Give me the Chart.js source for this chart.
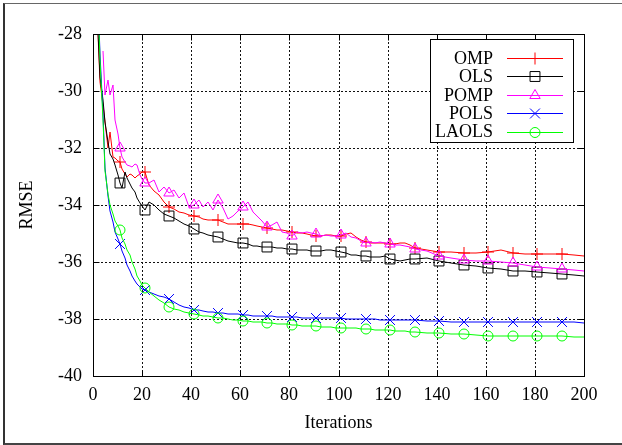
<!DOCTYPE html>
<html>
<head>
<meta charset="utf-8">
<script src="https://cdn.jsdelivr.net/npm/chart.js@4.4.1/dist/chart.umd.min.js"></script>
<style>
  html, body { margin: 0; padding: 0; background: #fff; overflow: hidden; }
  #wrap { position: relative; width: 622px; height: 445px; }
  #edge { position: absolute; left: 3px; top: 3px; right: -4px; bottom: 0; border-left: 2px solid #333; border-top: 1px solid #666; border-bottom: 2px solid #444; pointer-events: none; }
</style>
</head>
<body>
<div id="wrap">
  <canvas id="rmseChart" width="622" height="445"></canvas>
  <div id="edge"></div>
</div>
<script>
// iteration numbers at which the curves are sampled
var iterations = [1, 2, 3, 4, 5, 6, 7, 8, 9, 10, 11, 12, 13, 14, 15, 16, 17, 18, 19, 20, 21,
  23, 25, 27, 29, 31, 33, 35, 37, 39, 41, 43, 45, 47, 49, 51, 53, 55, 57, 59, 61,
  63, 65, 67, 69, 71, 73, 75, 77, 79, 81, 83, 85, 87, 89, 91, 93, 95, 97, 99, 101,
  103, 105, 107, 109, 111, 113, 115, 117, 119, 121, 123, 125, 127, 129, 131,
  136, 141, 146, 151, 156, 161, 166, 171, 176, 181, 186, 191, 196, 200];

var omp = [-25.0, -28.0, -29.7, -30.5, -31.1, -32.0, -31.45, -32.3, -32.35, -32.45, -32.5, -32.75, -32.9, -33.0, -32.9, -32.95, -33.06, -32.98, -32.9, -32.85, -32.83,
  -33.3, -33.5, -33.65, -33.9, -34.06,
  -34.15, -34.23, -34.28, -34.34, -34.39, -34.43, -34.48, -34.53, -34.54, -34.53,
  -34.6, -34.65, -34.65, -34.65, -34.65, -34.68, -34.7, -34.75, -34.78, -34.8,
  -34.83, -34.86, -34.89, -34.92, -34.95, -34.98, -35.0, -35.03, -35.06, -35.09,
  -35.08, -35.06, -35.05, -35.08, -35.1, -35.03, -34.99, -35.12, -35.22, -35.3,
  -35.32, -35.33, -35.34, -35.35, -35.37, -35.36, -35.34, -35.32, -35.42, -35.5,
  -35.57, -35.64, -35.66, -35.7, -35.68, -35.65, -35.58, -35.7, -35.71, -35.72, -35.72, -35.72, -35.76, -35.8];

var ols = [-25.0, -27.9, -29.5, -30.3, -31.1, -31.8, -32.2, -32.4, -32.6, -32.95, -33.23, -33.4, -32.85, -33.05, -33.25, -33.4, -33.55, -33.75, -33.93, -34.05, -34.18,
  -33.88, -34.0, -34.18, -34.3, -34.39,
  -34.47, -34.55, -34.68, -34.75, -34.85, -34.93, -34.99, -35.04, -35.08, -35.11,
  -35.19, -35.25, -35.3, -35.33, -35.34, -35.36, -35.43, -35.45, -35.46, -35.47,
  -35.49, -35.5, -35.52, -35.53, -35.55, -35.57, -35.58, -35.59, -35.6, -35.6,
  -35.6, -35.59, -35.58, -35.62, -35.65, -35.69, -35.74, -35.77, -35.79, -35.8,
  -35.83, -35.84, -35.81, -35.8, -35.88, -35.92, -35.95, -35.93, -35.91, -35.9,
  -35.86, -35.96, -36.04, -36.1, -36.15, -36.2, -36.25, -36.3, -36.33, -36.35, -36.4, -36.43, -36.47, -36.5];

var pomp = [null, null, null, -28.58, -30.14, -29.61, -30.14, -29.79, -31.0, -31.5, -32.0, -32.3, -32.5, -32.58, -32.62, -32.65, -32.55, -32.6, -32.95, -33.1, -33.22,
  -33.24, -33.12, -33.53, -33.36, -33.57,
  -33.47, -33.77, -33.59, -34.06, -34.0, -33.82, -34.06, -33.88, -34.18, -33.82,
  -34.1, -34.5, -34.4, -34.2, -34.06, -33.88, -34.23, -34.4, -34.55, -34.78,
  -34.7, -34.6, -34.94, -35.0, -35.09, -34.94, -35.0, -34.94, -35.0, -35.02,
  -35.1, -35.06, -35.09, -35.1, -35.05, -35.0, -35.12, -35.15, -35.25, -35.33,
  -35.3, -35.32, -35.3, -35.35, -35.37, -35.42, -35.4, -35.45, -35.47, -35.54,
  -35.6, -35.8, -35.87, -35.93, -35.95, -35.96, -36.0, -36.05, -36.12, -36.18, -36.22, -36.25, -36.28, -36.3];

var pols = [-24.5, -26.7, -28.7, -30.8, -32.7, -33.7, -34.2, -34.6, -34.95, -35.2, -35.37, -35.6, -35.85, -36.1, -36.3, -36.5, -36.65, -36.78, -36.87, -36.93, -36.98,
  -37.06, -37.13, -37.19, -37.24, -37.29,
  -37.4, -37.5, -37.57, -37.63, -37.68, -37.7, -37.72, -37.74, -37.77, -37.79,
  -37.8, -37.81, -37.83, -37.84, -37.86, -37.87, -37.88, -37.89, -37.9, -37.9,
  -37.91, -37.92, -37.92, -37.93, -37.93, -37.94, -37.95, -37.95, -37.96, -37.96,
  -37.97, -37.97, -37.98, -37.98, -37.98, -37.99, -37.99, -38.0, -38.0, -38.0,
  -38.01, -38.01, -38.02, -38.02, -38.02, -38.03, -38.04, -38.04, -38.05, -38.05,
  -38.07, -38.08, -38.09, -38.1, -38.1, -38.1, -38.1, -38.1, -38.1, -38.1, -38.11, -38.11, -38.12, -38.13];

var laols = [-24.5, -26.8, -28.9, -31.0, -32.8, -33.6, -34.0, -34.3, -34.55, -34.72, -34.88, -35.15, -35.37, -35.57, -35.75, -36.0, -36.25, -36.5, -36.65, -36.8, -36.91,
  -37.05, -37.2, -37.33, -37.45, -37.58,
  -37.65, -37.7, -37.75, -37.79, -37.82, -37.85, -37.88, -37.91, -37.94, -37.96,
  -37.98, -38.0, -38.02, -38.05, -38.07, -38.08, -38.1, -38.11, -38.12, -38.13,
  -38.15, -38.16, -38.18, -38.19, -38.2, -38.21, -38.23, -38.24, -38.25, -38.26,
  -38.27, -38.28, -38.29, -38.3, -38.3, -38.31, -38.32, -38.33, -38.34, -38.35,
  -38.36, -38.37, -38.38, -38.39, -38.4, -38.41, -38.42, -38.43, -38.44, -38.45,
  -38.48, -38.5, -38.52, -38.53, -38.56, -38.58, -38.59, -38.6, -38.6, -38.6, -38.6, -38.61, -38.62, -38.63];

var names = ['OMP', 'OLS', 'POMP', 'POLS', 'LAOLS'];
var xTicks = [0, 20, 40, 60, 80, 100, 120, 140, 160, 180, 200];
var yTicks = [-40, -38, -36, -34, -32, -30, -28];

var serif = '"Liberation Serif", "Times New Roman", serif';
Chart.defaults.font.family = serif;
Chart.defaults.font.size = 18;
Chart.defaults.color = '#000';

var look = [
  { color: '#ff0000', style: 'cross', r: 6 },
  { color: '#000000', style: 'rect', r: 7 },
  { color: '#ff00ff', style: 'triangle', r: 6 },
  { color: '#0000ff', style: 'crossRot', r: 7 },
  { color: '#00ff00', style: 'circle', r: 5 }
];

// a symbol every 10th iteration, like gnuplot's "every 10"
function everyTen(r) {
  return function (ctx) {
    var it = iterations[ctx.dataIndex];
    return (it > 1 && (it - 1) % 10 === 0) ? r : 0;
  };
}

var datasets = [omp, ols, pomp, pols, laols].map(function (vals, i) {
  return {
    label: names[i],
    data: iterations.map(function (it, k) { return { x: it, y: vals[k] }; }),
    borderColor: look[i].color,
    borderWidth: 1,
    pointStyle: look[i].style,
    markRadius: look[i].r,
    pointRadius: everyTen(look[i].r),
    pointHoverRadius: 0,
    pointBorderColor: look[i].color,
    pointBackgroundColor: 'rgba(0,0,0,0)',
    pointBorderWidth: 1,
    tension: 0,
    spanGaps: false,
    order: 4 - i
  };
});

// closed frame with inward ticks on all four sides
var boxFrame = {
  id: 'boxFrame',
  afterDatasetsDraw: function (chart) {
    var c = chart.ctx, a = chart.chartArea;
    var sx = chart.scales.x, sy = chart.scales.y;
    var L = Math.round(a.left) + 0.5, R = Math.round(a.right) + 0.5;
    var T = Math.round(a.top) + 0.5, B = Math.round(a.bottom) + 0.5;
    c.save();
    c.strokeStyle = '#000';
    c.lineWidth = 1;
    c.strokeRect(L, T, R - L, B - T);
    c.beginPath();
    xTicks.forEach(function (v) {
      var px = Math.round(sx.getPixelForValue(v)) + 0.5;
      c.moveTo(px, B); c.lineTo(px, B - 6);
      c.moveTo(px, T); c.lineTo(px, T + 6);
    });
    yTicks.forEach(function (v) {
      var py = Math.round(sy.getPixelForValue(v)) + 0.5;
      c.moveTo(L, py); c.lineTo(L + 6, py);
      c.moveTo(R, py); c.lineTo(R - 6, py);
    });
    c.stroke();
    c.restore();
  }
};

// key in the upper right corner, text right-aligned before the sample
var keyBox = {
  id: 'keyBox',
  afterDatasetsDraw: function (chart) {
    var c = chart.ctx;
    c.save();
    c.fillStyle = '#fff';
    c.fillRect(430, 39, 143, 103);
    c.strokeStyle = '#000';
    c.lineWidth = 1;
    c.strokeRect(430.5, 39.5, 143, 103);
    c.font = '18px ' + serif;
    c.textAlign = 'right';
    c.textBaseline = 'middle';
    chart.data.datasets.forEach(function (ds, i) {
      var y = 58 + i * 18.4;
      var ly = Math.round(y) + 0.5;
      c.fillStyle = '#000';
      c.fillText(ds.label, 493, y + 1);
      c.strokeStyle = ds.borderColor;
      c.beginPath();
      c.moveTo(507, ly);
      c.lineTo(563, ly);
      c.stroke();
      c.fillStyle = 'rgba(0,0,0,0)';
      Chart.helpers.drawPoint(c, { pointStyle: ds.pointStyle, radius: ds.markRadius, borderWidth: 1, rotation: 0 }, 535, ly);
    });
    c.restore();
  }
};

new Chart(document.getElementById('rmseChart').getContext('2d'), {
  type: 'line',
  data: { datasets: datasets },
  options: {
    responsive: false,
    animation: false,
    events: [],
    layout: { padding: { top: 34, right: 38, left: 0, bottom: 0 } },
    plugins: { legend: { display: false }, tooltip: { enabled: false } },
    scales: {
      x: {
        type: 'linear',
        min: 0,
        max: 200,
        alignToPixels: true,
        afterFit: function (s) { s.height = 69; },
        ticks: { stepSize: 20, padding: 8, maxRotation: 0, autoSkip: false },
        grid: { color: '#111', lineWidth: 1, drawTicks: false },
        border: { display: false, dash: [2, 2] },
        title: { display: true, text: 'Iterations', padding: { top: 0, bottom: 11 } }
      },
      y: {
        min: -40,
        max: -28,
        alignToPixels: true,
        afterFit: function (s) { s.width = 93; },
        ticks: { stepSize: 2, padding: 11 },
        grid: { color: '#111', lineWidth: 1, drawTicks: false },
        border: { display: false, dash: [2, 2] },
        title: { display: true, text: 'RMSE', padding: { top: 16, bottom: 0 } }
      }
    }
  },
  plugins: [boxFrame, keyBox]
});
</script>
</body>
</html>
